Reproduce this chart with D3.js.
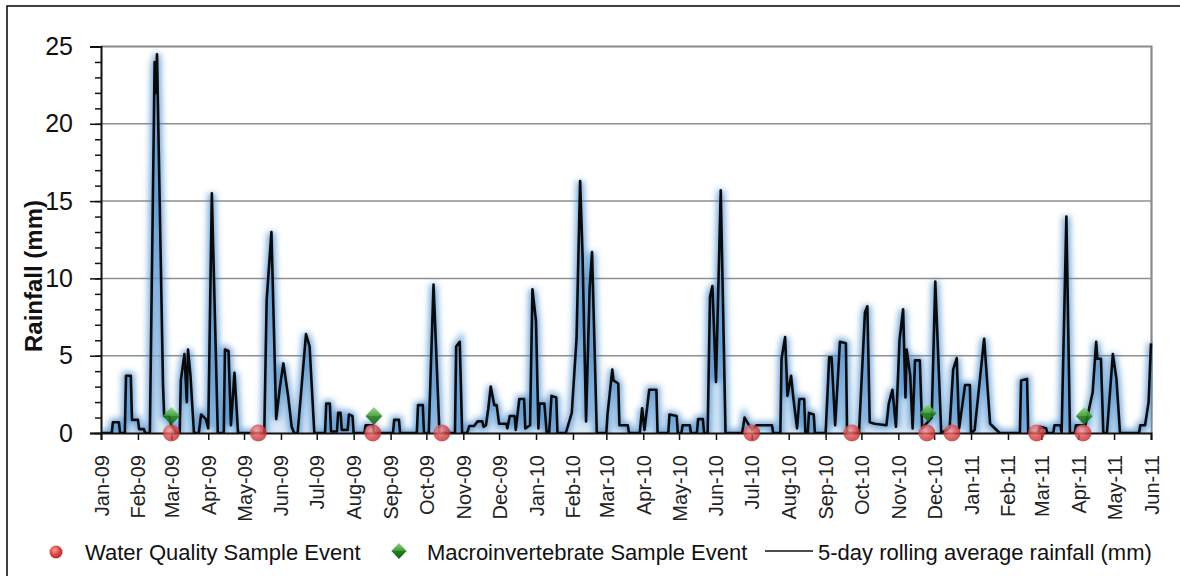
<!DOCTYPE html>
<html>
<head>
<meta charset="utf-8">
<script src="https://cdn.jsdelivr.net/npm/d3@7"></script>
<style>
  body { margin: 0; background: #fff; }
  text { font-family: "Liberation Sans", Arial, sans-serif; }
</style>
</head>
<body>
<div id="chart"></div>
<script>
// 5-day rolling average rainfall (mm), vertices
const rainfall = [
  ["2009-01-01",0],["2009-01-10",0],["2009-01-11",0.7],["2009-01-16",0.7],["2009-01-17",0],
  ["2009-01-21",0],["2009-01-22",3.7],["2009-01-26",3.7],["2009-01-27",0.85],["2009-02-01",0.85],
  ["2009-02-02",0.25],["2009-02-06",0.25],["2009-02-07",0],["2009-02-11",0],["2009-02-15",24.0],
  ["2009-02-16",22.0],["2009-02-17",24.5],["2009-02-22",3.2],["2009-02-23",1.1],["2009-02-27",1.1],
  ["2009-03-01",0.5],["2009-03-03",0.3],["2009-03-05",0],["2009-03-08",0],["2009-03-09",3.4],
  ["2009-03-12",5.1],["2009-03-14",2.0],["2009-03-15",5.4],["2009-03-17",3.8],["2009-03-20",0],
  ["2009-03-24",0],["2009-03-26",1.2],["2009-03-30",0.9],["2009-04-01",0.3],["2009-04-04",15.5],
  ["2009-04-09",0],["2009-04-14",0],["2009-04-15",5.4],["2009-04-18",5.3],["2009-04-20",0.5],
  ["2009-04-23",3.9],["2009-04-26",0],["2009-05-18",0],["2009-05-20",8.6],["2009-05-24",13.0],
  ["2009-05-28",0.9],["2009-05-31",2.9],["2009-06-03",4.5],["2009-06-07",2.4],["2009-06-10",0.4],
  ["2009-06-12",0],["2009-06-15",0],["2009-06-22",6.4],["2009-06-25",5.6],["2009-06-29",0],
  ["2009-07-08",0],["2009-07-09",1.9],["2009-07-12",1.9],["2009-07-13",0.1],["2009-07-18",0.1],
  ["2009-07-19",1.3],["2009-07-21",1.3],["2009-07-22",0.2],["2009-07-27",0.2],["2009-07-28",1.2],
  ["2009-07-31",1.1],["2009-08-01",0],["2009-08-10",0],["2009-08-11",0.5],["2009-08-17",0.5],
  ["2009-08-18",0],["2009-09-03",0],["2009-09-04",0.85],["2009-09-08",0.85],["2009-09-09",0],
  ["2009-09-23",0],["2009-09-24",1.8],["2009-09-28",1.8],["2009-09-29",0],["2009-10-03",0],
  ["2009-10-07",9.6],["2009-10-12",0],["2009-10-25",0],["2009-10-26",5.6],["2009-10-29",5.9],
  ["2009-10-31",0],["2009-11-04",0],["2009-11-05",0.2],["2009-11-06",0.45],["2009-11-10",0.45],
  ["2009-11-13",0.75],["2009-11-17",0.75],["2009-11-18",0.4],["2009-11-20",0.5],["2009-11-22",1.6],
  ["2009-11-24",3.0],["2009-11-27",1.8],["2009-11-29",1.8],["2009-12-01",0.6],["2009-12-07",0.6],
  ["2009-12-08",0.3],["2009-12-10",1.1],["2009-12-14",1.1],["2009-12-15",0.2],["2009-12-18",2.2],
  ["2009-12-22",2.2],["2009-12-23",0.3],["2009-12-27",0.5],["2009-12-29",9.3],["2010-01-01",7.2],
  ["2010-01-03",0.3],["2010-01-04",1.9],["2010-01-08",1.9],["2010-01-10",0],["2010-01-12",0],
  ["2010-01-14",2.4],["2010-01-18",2.3],["2010-01-19",0],["2010-01-26",0],["2010-01-31",1.3],
  ["2010-02-04",6.1],["2010-02-07",16.3],["2010-02-09",11.6],["2010-02-12",0.75],["2010-02-15",9.4],
  ["2010-02-17",11.7],["2010-02-21",0],["2010-03-01",0],["2010-03-02",1.2],["2010-03-06",4.1],
  ["2010-03-07",3.4],["2010-03-11",3.2],["2010-03-12",0.5],["2010-03-19",0.5],["2010-03-20",0],
  ["2010-03-29",0],["2010-03-31",1.6],["2010-04-02",0.2],["2010-04-06",2.8],["2010-04-12",2.8],
  ["2010-04-13",0],["2010-04-22",0],["2010-04-23",1.2],["2010-04-29",1.1],["2010-04-30",0],
  ["2010-05-03",0],["2010-05-04",0.5],["2010-05-10",0.5],["2010-05-11",0],["2010-05-16",0],
  ["2010-05-17",0.9],["2010-05-21",0.9],["2010-05-22",0],["2010-05-25",0],["2010-05-27",8.8],
  ["2010-05-29",9.5],["2010-06-01",3.3],["2010-06-05",15.7],["2010-06-09",0],["2010-06-23",0],
  ["2010-06-25",1.0],["2010-07-01",0.2],["2010-07-05",0.5],["2010-07-18",0.5],["2010-07-19",0],
  ["2010-07-25",0],["2010-07-26",4.8],["2010-07-29",6.2],["2010-07-31",2.4],["2010-08-03",3.7],
  ["2010-08-05",2.2],["2010-08-08",0.3],["2010-08-10",2.2],["2010-08-14",2.2],["2010-08-15",0],
  ["2010-08-17",0],["2010-08-18",1.3],["2010-08-22",1.2],["2010-08-23",0],["2010-09-01",0],
  ["2010-09-04",4.9],["2010-09-06",4.9],["2010-09-09",0.5],["2010-09-13",5.9],["2010-09-18",5.8],
  ["2010-09-19",0],["2010-09-29",0],["2010-10-04",7.8],["2010-10-06",8.2],["2010-10-08",0.7],
  ["2010-10-12",0.6],["2010-10-22",0.5],["2010-10-24",1.9],["2010-10-27",2.8],["2010-10-30",0.4],
  ["2010-11-02",6.0],["2010-11-05",8.0],["2010-11-07",2.3],["2010-11-08",5.4],["2010-11-11",3.7],
  ["2010-11-13",0.3],["2010-11-15",4.7],["2010-11-19",4.7],["2010-11-21",0.3],["2010-11-29",1.0],
  ["2010-12-02",9.8],["2010-12-07",0],["2010-12-14",0.3],["2010-12-17",4.1],["2010-12-20",4.85],
  ["2010-12-22",0.3],["2010-12-27",3.1],["2010-12-31",3.1],["2011-01-01",0],["2011-01-04",0.2],
  ["2011-01-12",6.1],["2011-01-17",0.6],["2011-01-25",0],["2011-02-11",0],["2011-02-12",3.4],
  ["2011-02-17",3.5],["2011-02-18",0],["2011-02-26",0],["2011-02-28",0.4],["2011-03-05",0.3],
  ["2011-03-06",0],["2011-03-11",0],["2011-03-12",0.5],["2011-03-17",0.5],["2011-03-18",0],
  ["2011-03-22",14.0],["2011-03-25",0],["2011-03-29",0],["2011-03-30",0.5],["2011-04-07",0.5],
  ["2011-04-13",2.6],["2011-04-16",5.9],["2011-04-17",4.8],["2011-04-20",4.8],["2011-04-22",0],
  ["2011-04-25",0],["2011-04-30",5.1],["2011-05-03",3.5],["2011-05-06",0],["2011-05-22",0],
  ["2011-05-23",0.5],["2011-05-27",0.5],["2011-05-30",2.0],["2011-06-01",5.8]
];

const waterQualityDates = ["2009-03-01","2009-05-13","2009-08-17","2009-10-14","2010-07-01",
  "2010-09-23","2010-11-25","2010-12-16","2011-02-25","2011-04-05"];
const macroDates  = ["2009-03-01","2009-08-18","2010-11-26","2011-04-06"];
const macroValues = [1.1, 1.1, 1.3, 1.1];

const yMajorTicks = [0, 5, 10, 15, 20, 25];
const yMinorTicks = d3.range(0, 26, 1);
const legendLabels = ["Water Quality Sample Event", "Macroinvertebrate Sample Event",
  "5-day rolling average rainfall (mm)"];

const parse = d3.timeParse("%Y-%m-%d");
const rain = rainfall.map(d => ({ date: parse(d[0]), v: d[1] }));

const width = 1180, height = 576;
const svg = d3.select("#chart").append("svg")
  .attr("width", width).attr("height", height);

svg.append("rect").attr("width", width).attr("height", height).attr("fill", "#fff");
// outer frame
svg.append("rect")
  .attr("x", 7).attr("y", 6).attr("width", 1200).attr("height", 600)
  .attr("fill", "none").attr("stroke", "#111").attr("stroke-width", 1.6);

const x = d3.scaleTime()
  .domain([parse("2009-01-01"), parse("2011-06-01")])
  .range([101, 1151]);
const y = d3.scaleLinear().domain([0, 25]).range([433, 46.5]);

const defs = svg.append("defs");
defs.append("filter").attr("id", "glow")
  .attr("x", "-10%").attr("y", "-10%").attr("width", "120%").attr("height", "120%")
  .append("feGaussianBlur").attr("stdDeviation", 3);
defs.append("clipPath").attr("id", "plotclip")
  .append("rect").attr("x", 101).attr("y", 30).attr("width", 1052).attr("height", 404);

const red = defs.append("radialGradient").attr("id", "redball")
  .attr("cx", "40%").attr("cy", "35%").attr("r", "65%");
red.append("stop").attr("offset", "0%").attr("stop-color", "#f4a0a0");
red.append("stop").attr("offset", "55%").attr("stop-color", "#e04848");
red.append("stop").attr("offset", "100%").attr("stop-color", "#b82a2a");

const green = defs.append("linearGradient").attr("id", "greengem")
  .attr("x1", "0").attr("y1", "0").attr("x2", "0").attr("y2", "1");
green.append("stop").attr("offset", "0%").attr("stop-color", "#8fd67a");
green.append("stop").attr("offset", "48%").attr("stop-color", "#3f9f36");
green.append("stop").attr("offset", "52%").attr("stop-color", "#22801e");
green.append("stop").attr("offset", "100%").attr("stop-color", "#176316");

// gridlines
svg.append("g").selectAll("line")
  .data([5, 10, 15, 20])
  .join("line")
  .attr("x1", 101).attr("x2", 1151)
  .attr("y1", d => y(d)).attr("y2", d => y(d))
  .attr("stroke", "#8f8f8f").attr("stroke-width", 1.5);

// plot frame (top + right)
svg.append("path")
  .attr("d", `M101,${y(25)}H1151.5V433`)
  .attr("fill", "none").attr("stroke", "#8a8a8a").attr("stroke-width", 2.2);

// rainfall area + glow + line
const area = d3.area().x(d => x(d.date)).y0(y(0)).y1(d => y(d.v));
const line = d3.line().x(d => x(d.date)).y(d => y(d.v));

const plot = svg.append("g").attr("clip-path", "url(#plotclip)");
plot.append("path").datum(rain)
  .attr("d", area)
  .attr("fill", "#b4d3ee").attr("opacity", 0.5);
plot.append("path").datum(rain)
  .attr("d", line)
  .attr("fill", "none")
  .attr("stroke", "#3d86cc").attr("stroke-width", 7).attr("opacity", 0.75)
  .attr("filter", "url(#glow)");
plot.append("path").datum(rain)
  .attr("d", line)
  .attr("fill", "none")
  .attr("stroke", "#0a0a0a").attr("stroke-width", 2.6)
  .attr("stroke-linejoin", "round");

// y axis
const yAxis = svg.append("g")
  .attr("transform", "translate(101,0)")
  .call(d3.axisLeft(y).tickValues(yMajorTicks).tickSize(11).tickPadding(17));
yAxis.select("path.domain").attr("stroke", "#111").attr("stroke-width", 2);
yAxis.selectAll("line").attr("stroke", "#111").attr("stroke-width", 1.5);
yAxis.selectAll("text")
  .attr("font-size", "25px").attr("fill", "#111")
  .style("font-family", "'Liberation Sans', Arial, sans-serif");

const yMinor = svg.append("g")
  .attr("transform", "translate(101,0)")
  .call(d3.axisLeft(y).tickValues(yMinorTicks).tickSize(6).tickFormat(""));
yMinor.select("path.domain").remove();
yMinor.selectAll("line").attr("stroke", "#111").attr("stroke-width", 1.5);

// x axis
const xAxis = svg.append("g")
  .attr("transform", "translate(0,433)")
  .call(d3.axisBottom(x)
    .ticks(d3.timeMonth.every(1))
    .tickSize(7)
    .tickFormat(d3.timeFormat("%b-%y")));
xAxis.select("path.domain").attr("stroke", "#111").attr("stroke-width", 2);
xAxis.selectAll("line").attr("stroke", "#111").attr("stroke-width", 1.5);
xAxis.selectAll("text")
  .attr("transform", "rotate(-90)")
  .attr("text-anchor", "end")
  .attr("x", -22).attr("y", 0).attr("dy", "0.35em")
  .attr("font-size", "20px").attr("fill", "#222")
  .style("font-family", "'Liberation Sans', Arial, sans-serif");

// y label
svg.append("text")
  .attr("transform", "translate(42,276) rotate(-90)")
  .attr("text-anchor", "middle")
  .attr("font-size", "24px").attr("font-weight", "bold").attr("fill", "#111")
  .text("Rainfall (mm)");

// sample events
const diamond = s => `M0,${-s}L${s * 0.95},0L0,${s}L${-s * 0.95},0Z`;

svg.append("g").selectAll("circle")
  .data(waterQualityDates)
  .join("circle")
  .attr("cx", d => x(parse(d)))
  .attr("cy", y(0))
  .attr("r", 8.5)
  .attr("fill", "url(#redball)")
  .attr("opacity", 0.8);

svg.append("g").selectAll("path")
  .data(macroDates)
  .join("path")
  .attr("transform", (d, i) => `translate(${x(parse(d))},${y(macroValues[i])})`)
  .attr("d", diamond(9))
  .attr("fill", "url(#greengem)")
  .attr("opacity", 0.9);

// legend
const legend = svg.append("g").attr("font-size", "22px").attr("fill", "#111");
legend.append("circle").attr("cx", 56).attr("cy", 552).attr("r", 6.5).attr("fill", "url(#redball)");
legend.append("text").attr("x", 85).attr("y", 560).text(legendLabels[0]);
legend.append("path").attr("transform", "translate(399,551)").attr("d", diamond(8))
  .attr("fill", "url(#greengem)");
legend.append("text").attr("x", 427).attr("y", 560).text(legendLabels[1]);
legend.append("line").attr("x1", 765).attr("x2", 813).attr("y1", 551).attr("y2", 551)
  .attr("stroke", "#111").attr("stroke-width", 1.5);
legend.append("text").attr("x", 818).attr("y", 560).text(legendLabels[2]);
</script>
</body>
</html>
